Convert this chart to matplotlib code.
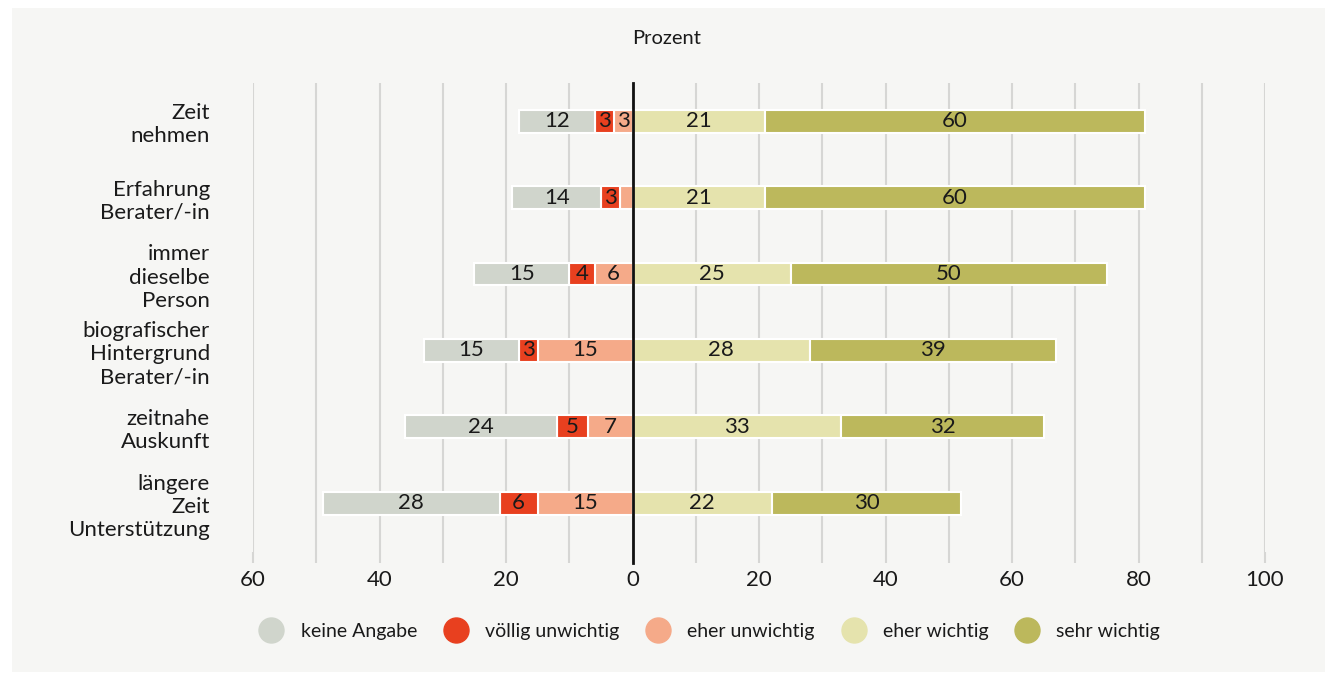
import numpy as np
import matplotlib.pyplot as plt
from matplotlib.lines import Line2D
from matplotlib.patches import Rectangle

plt.rcParams['font.family'] = ['Lato', 'DejaVu Sans']

# ---------------------------------------------------------
# data (Prozent)
# ---------------------------------------------------------
categories = ["Zeit\nnehmen", "Erfahrung\nBerater/-in", "immer\ndieselbe\nPerson",
              "biografischer\nHintergrund\nBerater/-in", "zeitnahe\nAuskunft",
              "längere\nZeit\nUnterstützung"]
keine_angabe = [12, 14, 15, 15, 24, 28]
voellig_unwichtig = [3, 3, 4, 3, 5, 6]
eher_unwichtig = [3, 2, 6, 15, 7, 15]
eher_wichtig = [21, 21, 25, 28, 33, 22]
sehr_wichtig = [60, 60, 50, 39, 32, 30]

labels = ["keine Angabe", "völlig unwichtig", "eher unwichtig", "eher wichtig", "sehr wichtig"]
colors = ["#d0d5cc", "#e8401f", "#f5aa89", "#e5e3ad", "#bcb85c"]
bg = "#f6f6f4"
txt = "#1a1a1a"

# ---------------------------------------------------------
# figure
# ---------------------------------------------------------
fig = plt.figure(figsize=(13.25, 6.75), dpi=100, facecolor="white")
fig.patches.append(Rectangle((12 / 1325, 3 / 675), 1 - 12 / 1325, 664 / 675,
                             transform=fig.transFigure, facecolor=bg, edgecolor="none", zorder=-10))
ax = fig.add_axes([253 / 1325, 1 - 552 / 675, 1012 / 1325, 469 / 675])
ax.set_facecolor("none")

y = np.arange(len(categories))
h = 0.30

# negative side: eher unwichtig next to zero, then voellig, then keine Angabe
neg_series = [(eher_unwichtig, colors[2]), (voellig_unwichtig, colors[1]), (keine_angabe, colors[0])]
pos_series = [(eher_wichtig, colors[3]), (sehr_wichtig, colors[4])]


def draw_side(series, sign):
    left = np.zeros(len(categories))
    for vals, c in series:
        vals = np.array(vals, dtype=float)
        bars = ax.barh(y, sign * vals, left=left, height=h, color=c, edgecolor="white",
                       linewidth=1.5, zorder=3)
        for b, v in zip(bars, vals):
            if v >= 3:
                ax.text(b.get_x() + b.get_width() / 2, b.get_y() + b.get_height() / 2, f"{int(v)}",
                        ha="center", va="center", fontsize=16, color=txt, zorder=4)
        left = left + sign * vals


draw_side(neg_series, -1)
draw_side(pos_series, 1)

ax.set_xlim(-60, 100)
ax.set_ylim(len(categories) - 0.36, -0.5)

major = np.arange(-60, 101, 20)
ax.set_xticks(major)
ax.set_xticklabels([str(abs(t)) for t in major])
ax.set_xticks(np.arange(-50, 100, 20), minor=True)
ax.grid(True, axis="x", which="both", color="#d6d6d4", linewidth=1.5, zorder=0)
ax.tick_params(axis="x", which="both", length=8, width=1.5, color="#d6d6d4",
               labelsize=16, pad=5, labelcolor=txt)

ax.set_yticks(y)
ax.set_yticklabels(categories, fontsize=16, color=txt, linespacing=1.2)
ax.tick_params(axis="y", length=0, pad=31)

for s in ax.spines.values():
    s.set_visible(False)

# zero line, running into the tick area
ax.plot([0, 0], [len(categories) - 0.36 + 0.15, -0.5], color="#111111", linewidth=2,
        clip_on=False, zorder=5)

fig.text(667 / 1325, 1 - 39 / 675, "Prozent", ha="center", va="center", fontsize=14.5, color=txt)

handles = [Line2D([], [], marker="o", linestyle="", markersize=18, color=c) for c in colors]
fig.legend(handles, labels, loc="center", bbox_to_anchor=(706 / 1325, 1 - 631 / 675), ncol=5,
           frameon=False, fontsize=14, handletextpad=0.5, columnspacing=1.0,
           labelcolor=txt)

fig.savefig("out.png", dpi=100, facecolor="white")
